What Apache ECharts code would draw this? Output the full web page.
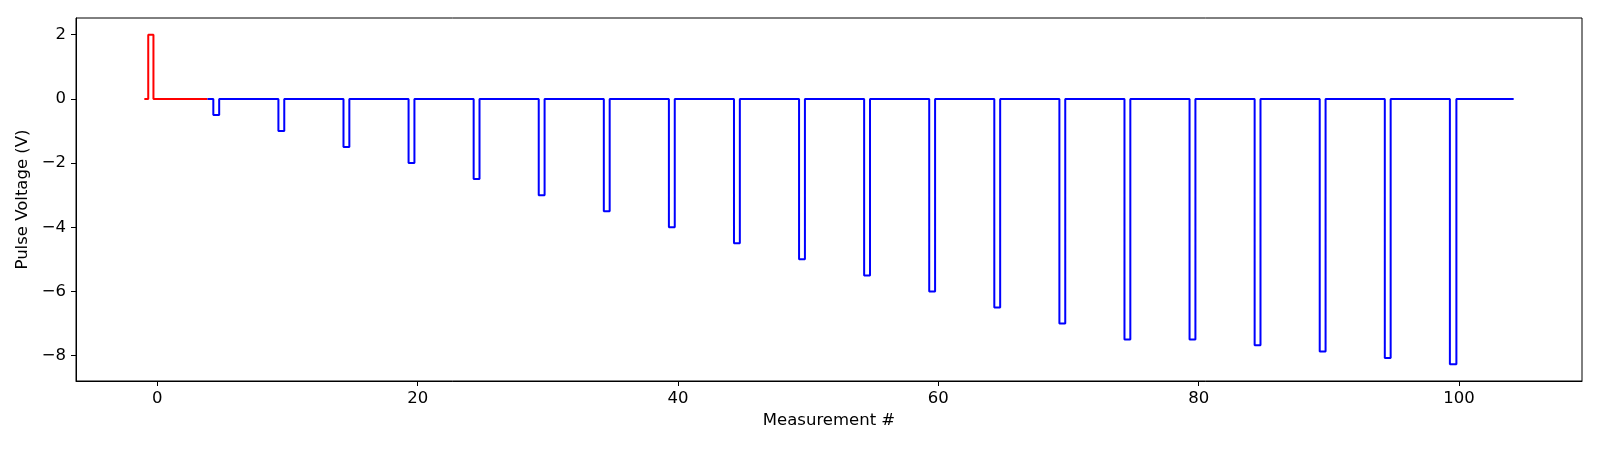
<!DOCTYPE html>
<html lang="en">
<head>
<meta charset="utf-8" />
<title>Pulse Voltage</title>
<script src="https://cdn.jsdelivr.net/npm/echarts@6/dist/echarts.min.js"></script>
<style>
  html, body { margin: 0; padding: 0; background: #fff; }
  #chart { width: 1600px; height: 450px; }
</style>
</head>
<body>
<div id="chart"></div>
<script type="text/javascript">
// red reference pulse (step edges)
var redX = [-1, -0.7, -0.3, 3.85];
var redY = [0, 2, 0, 0];

// blue pulse train
var blueStartX = 3.85;
var blueEndX = 104.2;
var pulseStart = [4.3, 9.3, 14.3, 19.3, 24.3, 29.3, 34.3, 39.3, 44.3, 49.3,
                  54.3, 59.3, 64.3, 69.3, 74.3, 79.3, 84.3, 89.3, 94.3, 99.3];
var pulseEnd = [4.75, 9.75, 14.75, 19.75, 24.75, 29.75, 34.75, 39.75, 44.75, 49.75,
                54.75, 59.75, 64.75, 69.75, 74.75, 79.75, 84.75, 89.75, 94.75, 99.8];
var pulseLevel = [-0.5, -1, -1.5, -2, -2.5, -3, -3.5, -4, -4.5, -5,
                  -5.5, -6, -6.5, -7, -7.5, -7.5, -7.68, -7.87, -8.07, -8.27];

var xTicks = [0, 20, 40, 60, 80, 100];
var yTicks = [-8, -6, -4, -2, 0, 2];

var redData = [];
for (var i = 0; i < redX.length; i++) redData.push([redX[i], redY[i]]);

var blueData = [[blueStartX, 0]];
for (var k = 0; k < pulseStart.length; k++) {
  blueData.push([pulseStart[k], pulseLevel[k]]);
  blueData.push([pulseEnd[k], 0]);
}
blueData.push([blueEndX, 0]);

function fmt(v) { return v < 0 ? '\u2212' + (-v) : String(v); }

var font = 'DejaVu Sans';
var fs = 16.5;
var chart = echarts.init(document.getElementById('chart'));
chart.setOption({
  animation: false,
  backgroundColor: '#fff',
  grid: {
    left: 76, right: 18, top: 18, bottom: 69,
    show: true, borderColor: '#000', borderWidth: 1, backgroundColor: 'transparent'
  },
  xAxis: {
    type: 'value',
    min: -6.25, max: 109.45,
    name: 'Measurement #',
    nameLocation: 'middle',
    nameGap: 30,
    nameTextStyle: { fontFamily: font, fontSize: fs, color: '#000' },
    axisLine: { show: true, onZero: false, lineStyle: { color: '#000', width: 1 } },
    axisTick: { show: true, length: 5, customValues: xTicks, lineStyle: { color: '#000' } },
    axisLabel: { customValues: xTicks, margin: 9, fontFamily: font, fontSize: fs, color: '#000', formatter: fmt },
    splitLine: { show: false }
  },
  yAxis: {
    type: 'value',
    min: -8.79, max: 2.52,
    name: 'Pulse Voltage (V)',
    nameLocation: 'middle',
    nameGap: 42,
    nameTextStyle: { fontFamily: font, fontSize: fs, color: '#000' },
    axisLine: { show: true, onZero: false, lineStyle: { color: '#000', width: 1 } },
    axisTick: { show: true, length: 5, customValues: yTicks, lineStyle: { color: '#000' } },
    axisLabel: { customValues: yTicks, margin: 10, fontFamily: font, fontSize: fs, color: '#000', formatter: fmt },
    splitLine: { show: false }
  },
  series: [
    {
      type: 'line', step: 'end', data: redData,
      showSymbol: false, lineStyle: { color: '#ff0000', width: 2 }, z: 2
    },
    {
      type: 'line', step: 'end', data: blueData,
      showSymbol: false, lineStyle: { color: '#0000ff', width: 2 }, z: 3
    }
  ]
});
</script>
</body>
</html>
